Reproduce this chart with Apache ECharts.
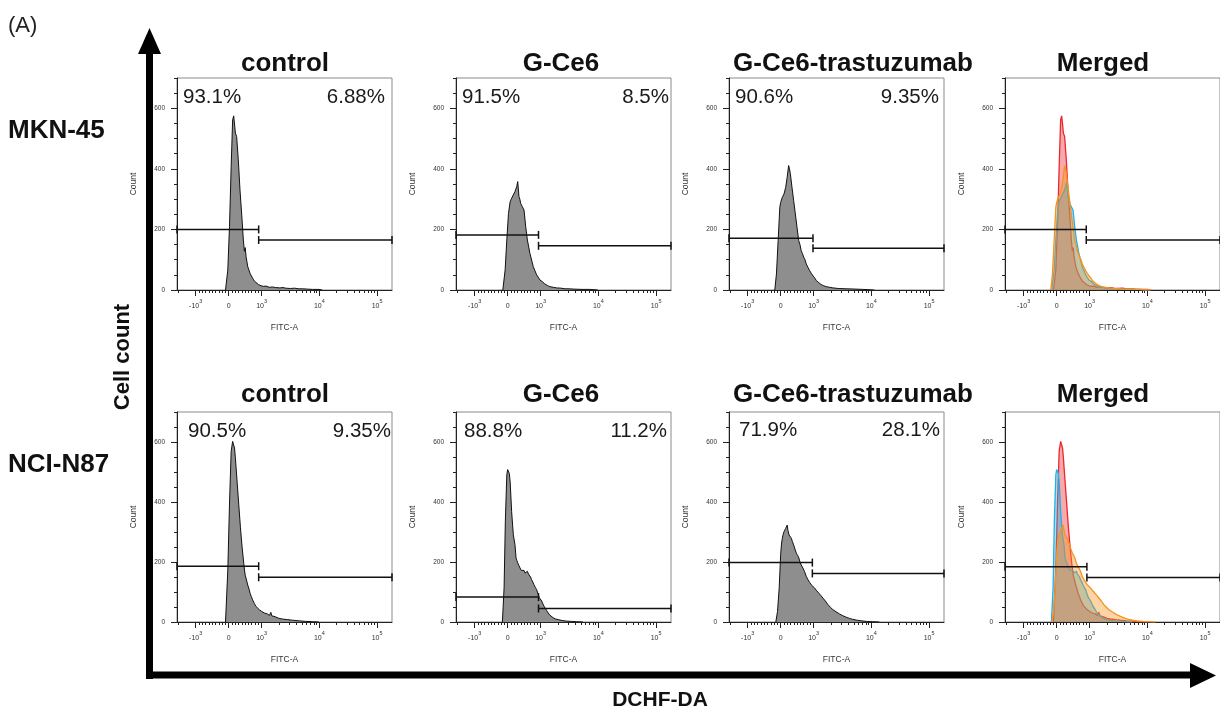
<!DOCTYPE html>
<html><head><meta charset="utf-8">
<script src="https://cdn.jsdelivr.net/npm/echarts@6/dist/echarts.min.js"></script>
<style>html,body{margin:0;padding:0;background:#fff}#c{width:1220px;height:711px}</style>
</head><body><div id="c"></div>
<script>
const FONT = '"Liberation Sans", Arial, Helvetica, sans-serif';

// ---------- text ----------
const figureLabel = '(A)';
const rowLabels = ['MKN-45', 'NCI-N87'];
const panelTitles = ['control', 'G-Ce6', 'G-Ce6-trastuzumab', 'Merged'];
const yAxisTitle = 'Cell count';
const xAxisTitle = 'DCHF-DA';
const panelXName = 'FITC-A';
const panelYName = 'Count';

// ---------- axis ticks ----------
const yTickValues = [0, 200, 400, 600];
const yMinorValues = [50, 100, 150, 250, 300, 350, 450, 500, 550, 650, 700];
const xTickValues = [-1000, 0, 1000, 10000, 100000];
const xTickBase = ['-10', '0', '10', '10', '10'];
const xTickExp = ['3', '', '3', '4', '5'];
const xMinorValues = [-2000, -900, -800, -700, -600, -500, -400, -300, -200, -100,
  100, 200, 300, 400, 500, 600, 700, 800, 900,
  2000, 3000, 4000, 5000, 6000, 7000, 8000, 9000,
  20000, 30000, 40000, 50000, 60000, 70000, 80000, 90000, 200000];

// ---------- histograms: [display channel (0-1024), count] ----------
const mkn45Control = [[231,0],[242,66],[250,209],[258,407],[265,562],[270,575],[274,548],[278,518],[284,507],[292,430],[300,330],[310,231],[316,165],[321,128],[325,140],[329,110],[337,77],[348,55],[360,39],[368,30],[376,24],[388,18],[400,14],[412,12],[424,13],[439,9],[455,10],[470,8],[490,7],[505,8],[518,6],[540,5],[560,6],[580,4],[597,4],[620,3],[645,2],[676,2],[692,0]];
const mkn45GCe6 = [[223,0],[234,66],[242,165],[250,253],[258,292],[265,303],[273,308],[281,325],[289,341],[294,358],[300,308],[304,300],[308,286],[312,290],[316,275],[320,270],[324,264],[332,209],[340,165],[352,121],[368,77],[384,50],[392,45],[400,33],[412,27],[423,20],[435,15],[447,11],[463,9],[479,7],[500,6],[520,4],[540,4],[558,3],[600,2],[637,2],[676,0]];
const mkn45GCe6Tras = [[218,0],[226,53],[234,163],[242,273],[246,289],[254,306],[262,317],[270,339],[277,372],[284,411],[288,400],[292,385],[300,339],[308,295],[316,251],[324,207],[332,163],[338,150],[344,130],[350,120],[356,108],[362,100],[368,86],[376,75],[384,64],[392,55],[400,47],[408,40],[416,31],[428,24],[439,18],[451,14],[463,11],[479,9],[495,7],[520,5],[558,4],[600,3],[637,2],[692,0]];
const n87Control = [[231,0],[242,173],[250,393],[258,569],[265,602],[270,608],[274,580],[278,548],[286,470],[294,393],[302,316],[310,250],[318,195],[322,170],[325,156],[331,140],[337,123],[343,110],[348,96],[354,85],[360,74],[368,62],[376,52],[384,46],[392,41],[404,35],[416,30],[430,27],[440,22],[447,32],[452,20],[462,19],[471,17],[486,12],[502,10],[525,8],[550,6],[580,4],[613,2],[645,1],[676,0]];
const n87GCe6 = [[221,0],[229,114],[235,335],[242,490],[246,508],[250,512],[254,495],[258,467],[265,368],[273,291],[281,257],[286,213],[290,205],[294,197],[300,188],[305,180],[311,172],[318,169],[324,172],[329,163],[335,160],[340,169],[345,160],[349,158],[355,150],[360,141],[366,133],[371,125],[378,115],[384,108],[390,95],[397,81],[402,77],[408,70],[414,60],[419,53],[425,46],[431,39],[439,30],[447,23],[455,18],[463,14],[475,10],[487,8],[505,5],[526,3],[550,2],[574,1],[605,0]];
const n87GCe6Tras = [[223,0],[231,35],[239,113],[246,224],[250,260],[254,279],[258,292],[262,301],[266,306],[270,312],[274,318],[277,323],[281,305],[286,290],[292,285],[297,279],[302,268],[308,257],[314,243],[321,229],[327,222],[333,213],[338,200],[344,190],[352,180],[360,168],[368,152],[376,141],[384,132],[392,124],[400,118],[408,113],[418,104],[428,96],[438,88],[447,80],[459,70],[471,58],[483,49],[495,41],[510,34],[526,27],[542,21],[558,16],[574,12],[589,9],[609,6],[629,4],[655,2],[684,1],[716,0]];

// ---------- gates (per panel, row-major) ----------
const gateSplit = [389, 393, 400, 387, 389, 393, 397, 390];   // channel of gate boundary
const gateLowCount = [200, 182, 171, 200, 186, 83, 198, 184];  // height of the left gate bar
const gateHighCount = [165, 146, 138, 165, 149, 45, 162, 148]; // height of the right gate bar

// ---------- gate percentages ----------
const pctLow = ['93.1%', '91.5%', '90.6%', '90.5%', '88.8%', '71.9%'];
const pctHigh = ['6.88%', '8.5%', '9.35%', '9.35%', '11.2%', '28.1%'];

// ---------- colours ----------
const mergedColors = ['#ec2730', '#22b0e4', '#f7931e'];

// biexponential-like display transform (value -> display channel)
function toChannel(v) {
  if (v >= 1000) return 403 + 275 * Math.log10(v / 1000);
  if (v <= -1000) return 89 - 275 * Math.log10(-v / 1000);
  return 246 + 157 * v / 1000;
}
const xMajorCh = xTickValues.map(toChannel);
const xMinorCh = xMinorValues.map(toChannel).filter(c => c >= 0 && c <= 1024);

// ---------- layout ----------
const gridLefts = [177, 456, 729, 1005];
const gridTops = [78, 412];
const gridHeights = [212, 210];
const gridWidth = 215;
const titleX = [285, 561, 853, 1103];
const titleY = [63, 394];
const pctPos = [[183, 385, 97], [462, 669, 97], [735, 939, 97], [188, 391, 431], [464, 667, 431], [739, 940, 430]];

const rowData = [[mkn45Control, mkn45GCe6, mkn45GCe6Tras], [n87Control, n87GCe6, n87GCe6Tras]];

const grids = [], xAxes = [], yAxes = [], series = [], graphics = [];

function labelFor(v) {
  let best = 0, bd = 1e9;
  xMajorCh.forEach((c, i) => { const d = Math.abs(c - v); if (d < bd) { bd = d; best = i; } });
  return xTickExp[best] ? '{b|' + xTickBase[best] + '}{s|' + xTickExp[best] + '}' : '{b|' + xTickBase[best] + '}';
}

for (let r = 0; r < 2; r++) {
  for (let c = 0; c < 4; c++) {
    const p = r * 4 + c;
    grids.push({ left: gridLefts[c], top: gridTops[r], width: gridWidth, height: gridHeights[r],
      show: true, borderColor: '#8a8a8a', borderWidth: 1, containLabel: false });
    xAxes.push({
      gridIndex: p, type: 'value', min: 0, max: 1024, position: 'bottom',
      axisLine: { show: true, onZero: false, lineStyle: { color: '#222', width: 1 } },
      axisTick: { show: true, length: 6, customValues: xMajorCh, lineStyle: { color: '#222', width: 1 } },
      axisLabel: { show: true, customValues: xMajorCh, margin: 8, formatter: labelFor,
        rich: {
          b: { fontSize: 7, fontFamily: FONT, color: '#333', lineHeight: 12, verticalAlign: 'bottom' },
          s: { fontSize: 5.5, fontFamily: FONT, color: '#333', lineHeight: 5, verticalAlign: 'top' }
        } },
      splitLine: { show: false },
      name: panelXName, nameLocation: 'middle', nameGap: 33,
      nameTextStyle: { fontSize: 8.5, color: '#333', fontFamily: FONT }
    });
    xAxes.push({
      gridIndex: p, type: 'value', min: 0, max: 1024, position: 'bottom',
      axisLine: { show: false, onZero: false },
      axisTick: { show: true, length: 3, customValues: xMinorCh, lineStyle: { color: '#222', width: 1 } },
      axisLabel: { show: false }, splitLine: { show: false }
    });
    yAxes.push({
      gridIndex: p, type: 'value', min: 0, max: 700, position: 'left',
      axisLine: { show: true, onZero: false, lineStyle: { color: '#222', width: 1 } },
      axisTick: { show: true, length: 6, customValues: yTickValues, lineStyle: { color: '#222', width: 1 } },
      axisLabel: { show: true, customValues: yTickValues, margin: 12, fontSize: 6.5, color: '#333', fontFamily: FONT },
      splitLine: { show: false },
      name: panelYName, nameLocation: 'middle', nameGap: 39, nameRotate: 90,
      nameTextStyle: { fontSize: 8.5, color: '#333', fontFamily: FONT }
    });
    yAxes.push({
      gridIndex: p, type: 'value', min: 0, max: 700, position: 'left',
      axisLine: { show: false, onZero: false },
      axisTick: { show: true, length: 3, customValues: yMinorValues, lineStyle: { color: '#222', width: 1 } },
      axisLabel: { show: false }, splitLine: { show: false }
    });

    if (c < 3) {
      series.push({
        type: 'line', xAxisIndex: 2 * p, yAxisIndex: 2 * p, data: rowData[r][c],
        symbol: 'none', smooth: false, silent: true, z: 2,
        lineStyle: { color: '#111', width: 1 },
        areaStyle: { color: '#8e8e8e', opacity: 1 }
      });
    } else {
      rowData[r].forEach((d, k) => {
        series.push({
          type: 'line', xAxisIndex: 2 * p, yAxisIndex: 2 * p, data: d,
          symbol: 'none', smooth: false, silent: true, z: 2 + k,
          lineStyle: { color: mergedColors[k], width: 1.3 },
          areaStyle: { color: mergedColors[k], opacity: 0.4 }
        });
      });
    }

    series.push({
      type: 'custom', xAxisIndex: 2 * p, yAxisIndex: 2 * p, z: 10, silent: true,
      encode: { x: [0, 1], y: 2 },
      data: [[0, gateSplit[p], gateLowCount[p]], [gateSplit[p], 1024, gateHighCount[p]]],
      renderItem: function (params, api) {
        const a = api.coord([api.value(0), api.value(2)]);
        const b = api.coord([api.value(1), api.value(2)]);
        const st = { stroke: '#111', lineWidth: 1.5 };
        return { type: 'group', children: [
          { type: 'line', shape: { x1: a[0], y1: a[1], x2: b[0], y2: b[1] }, style: st },
          { type: 'line', shape: { x1: a[0], y1: a[1] - 4, x2: a[0], y2: a[1] + 4 }, style: st },
          { type: 'line', shape: { x1: b[0], y1: b[1] - 4, x2: b[0], y2: b[1] + 4 }, style: st }
        ] };
      }
    });

    graphics.push({ type: 'text', x: titleX[c], y: titleY[r] + 1, z: 20,
      style: { text: panelTitles[c], fontSize: 26, fontWeight: 'bold', fontFamily: FONT, fill: '#111', align: 'center', verticalAlign: 'middle' } });
    if (c < 3) {
      const q = r * 3 + c;
      graphics.push({ type: 'text', x: pctPos[q][0], y: pctPos[q][2], z: 20,
        style: { text: pctLow[q], fontSize: 20.5, fontFamily: FONT, fill: '#1a1a1a', align: 'left', verticalAlign: 'middle' } });
      graphics.push({ type: 'text', x: pctPos[q][1], y: pctPos[q][2], z: 20,
        style: { text: pctHigh[q], fontSize: 20.5, fontFamily: FONT, fill: '#1a1a1a', align: 'right', verticalAlign: 'middle' } });
    }
  }
}

// figure annotations
graphics.push({ type: 'text', x: 8, y: 26, style: { text: figureLabel, fontSize: 22, fontFamily: FONT, fill: '#222', align: 'left', verticalAlign: 'middle' } });
graphics.push({ type: 'text', x: 8, y: 131, style: { text: rowLabels[0], fontSize: 26, fontWeight: 'bold', fontFamily: FONT, fill: '#111', align: 'left', verticalAlign: 'middle' } });
graphics.push({ type: 'text', x: 8, y: 465, style: { text: rowLabels[1], fontSize: 26, fontWeight: 'bold', fontFamily: FONT, fill: '#111', align: 'left', verticalAlign: 'middle' } });
graphics.push({ type: 'text', x: 123, y: 357, rotation: Math.PI / 2, style: { text: yAxisTitle, fontSize: 22, fontWeight: 'bold', fontFamily: FONT, fill: '#111', align: 'center', verticalAlign: 'middle' } });
graphics.push({ type: 'text', x: 660, y: 700, style: { text: xAxisTitle, fontSize: 21, fontWeight: 'bold', fontFamily: FONT, fill: '#111', align: 'center', verticalAlign: 'middle' } });
// big arrows
graphics.push({ type: 'rect', shape: { x: 146, y: 50, width: 7, height: 629 }, style: { fill: '#000' } });
graphics.push({ type: 'polygon', shape: { points: [[138, 54], [161, 54], [149.5, 28]] }, style: { fill: '#000' } });
graphics.push({ type: 'rect', shape: { x: 146, y: 671.5, width: 1048, height: 7 }, style: { fill: '#000' } });
graphics.push({ type: 'polygon', shape: { points: [[1190, 663], [1190, 688], [1216, 675.5]] }, style: { fill: '#000' } });

const chart = echarts.init(document.getElementById('c'), null, { renderer: 'canvas' });
chart.setOption({
  animation: false,
  backgroundColor: '#fff',
  grid: grids, xAxis: xAxes, yAxis: yAxes, series: series, graphic: graphics
});
</script></body></html>
